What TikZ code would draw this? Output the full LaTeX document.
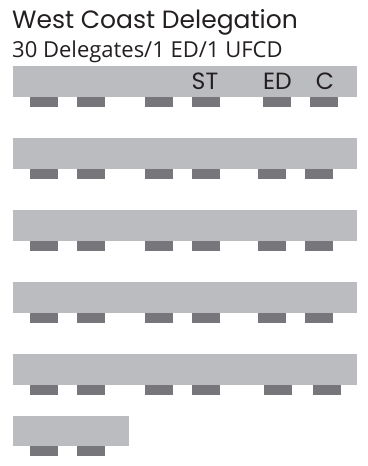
\documentclass[tikz,border=0pt]{standalone}
\usepackage{fontspec}
\setmainfont{Poppins}
\newfontfamily\subfont{Open Sans}
\definecolor{tablegray}{HTML}{BBBCBF}
\definecolor{chairgray}{HTML}{77777B}
\definecolor{ink}{HTML}{231F20}
\begin{document}
\begin{tikzpicture}[x=1pt,y=-1pt,
  tablebox/.style={fill=tablegray,draw=none,inner sep=0pt,minimum height=31pt,anchor=north west},
  chairbox/.style={fill=chairgray,draw=none,inner sep=0pt,minimum width=28pt,minimum height=10pt,anchor=north west},
  lbl/.style={text=ink,inner sep=0pt,anchor=base,font=\fontsize{23.5}{23.5}\selectfont}]
\useasboundingbox (0,0) rectangle (367,466);
\node[text=ink,inner sep=0pt,anchor=base west,font=\fontsize{25}{25}\selectfont] (title) at (12,28) {West Coast Delegation};
\node[text=ink,inner sep=0pt,anchor=base west,font=\subfont\fontsize{22}{22}\selectfont] (sub) at (12,57) {30 Delegates/1 ED/1 UFCD};
% tables
\foreach \r/\y in {1/66,2/138,3/210,4/282,5/354}{
  \node[tablebox,minimum width=344pt] (t\r) at (13,\y) {};
}
\node[tablebox,minimum width=116pt,minimum height=30pt] (t6) at (13,416) {};
% chairs
\foreach \r/\y/\e/\f in {1/97/263/310,2/169/258/305,3/241/258/305,4/313/258/305,5/385/264/313}{
  \foreach \c/\x in {1/30,2/77,3/145,4/192,5/\e,6/\f}{
    \node[chairbox] (c\r\c) at (\x,\y) {};
  }
}
\node[chairbox] (c61) at (30,446) {};
\node[chairbox] (c62) at (77,446) {};
% labels
\node[lbl] (st) at (205,89) {ST};
\node[lbl] (ed) at (277.5,89) {ED};
\node[lbl] (cc) at (325,89) {C};
\end{tikzpicture}
\end{document}
